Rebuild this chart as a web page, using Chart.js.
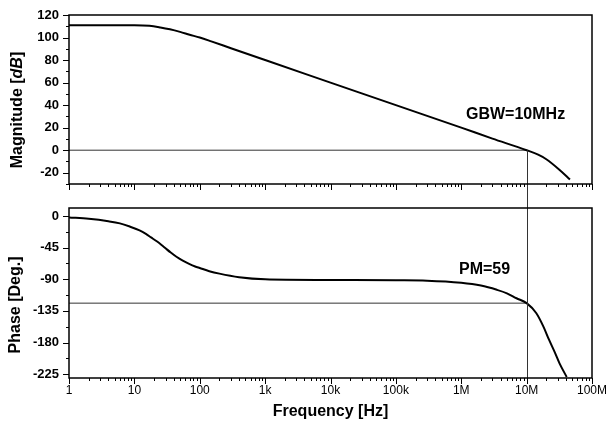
<!DOCTYPE html>
<html>
<head>
<meta charset="utf-8">
<script src="https://cdn.jsdelivr.net/npm/chart.js@4.4.1/dist/chart.umd.min.js"></script>
<style>
  body { margin: 0; background: #fff; }
  #wrap { position: relative; width: 606px; height: 437px; }
  canvas { position: absolute; left: 0; }
</style>
</head>
<body>
<div id="wrap">
  <canvas id="magChart" width="606" height="196" style="top:0"></canvas>
  <canvas id="phaseChart" width="606" height="241" style="top:196px"></canvas>
</div>
<script>
  // values
  const magFreq = [1, 10, 17, 25, 35, 50, 70, 100, 150, 300, 1e3, 1e4, 1e5, 1e6, 3e6, 1e7, 1.5e7, 2e7, 3.2e7, 4.6e7];
  const magDb = [111, 111, 110.5, 109, 107.3, 105, 102.5, 100, 96.6, 90.5, 80, 60, 40, 20, 10.3, 0, -4, -8, -17.5, -26];

  const phaseFreq = [1, 2, 4, 6, 8.5, 12, 15, 18, 22, 26, 30, 36, 44, 55, 70, 85, 100, 140, 200, 400, 1e3, 1e4, 1e5, 3e5, 1e6, 2e6, 3.5e6, 5e6, 7e6, 1e7, 1.4e7, 1.8e7, 2.2e7, 2.7e7, 3.2e7, 4.1e7];
  const phaseDeg = [-2, -4, -7.5, -10.5, -15, -20.5, -25.5, -30.5, -36, -41.2, -46, -52, -58, -63.5, -68.5, -71.8, -74, -78.5, -82, -87, -90, -91, -91.5, -92, -95, -99, -105, -110, -117, -124, -138, -157, -176, -194, -210, -229];

  const decadeTicks = [1, 10, 100, 1e3, 1e4, 1e5, 1e6, 1e7, 1e8];
  const decadeLabels = ['1', '10', '100', '1k', '10k', '100k', '1M', '10M', '100M'];
  const gbwFreq = 1e7;
  const pmLine = -124;

  Chart.defaults.font.family = "'Liberation Sans', Arial, sans-serif";
  Chart.defaults.color = '#000';

  // all ticks 1..9 per decade
  const allTicks = [];
  for (let d = 0; d < 8; d++) {
    for (let m = 1; m < 10; m++) allTicks.push(m * Math.pow(10, d));
  }
  allTicks.push(1e8);

  function pts(xs, ys) {
    return xs.map((x, i) => ({ x: x, y: ys[i] }));
  }

  function drawVTitle(ctx, cx, cy, parts) {
    ctx.save();
    ctx.translate(cx, cy);
    ctx.rotate(-Math.PI / 2);
    let total = 0;
    parts.forEach(p => { ctx.font = p.font; p.w = ctx.measureText(p.text).width; total += p.w; });
    let x = -total / 2;
    ctx.textBaseline = 'middle';
    ctx.textAlign = 'left';
    ctx.fillStyle = '#000';
    parts.forEach(p => { ctx.font = p.font; ctx.fillText(p.text, x, 0); x += p.w; });
    ctx.restore();
  }

  // box, tick marks, cursor line and text
  const frame = {
    id: 'frame',
    afterDraw(chart, args, opts) {
      const { ctx, chartArea: a, scales } = chart;
      const xs = scales.x, ys = scales.y;
      ctx.save();
      ctx.strokeStyle = '#000';
      ctx.lineWidth = 1;
      xs.ticks.forEach(t => {
        const px = Math.round(xs.getPixelForValue(t.value)) + 0.5;
        const len = decadeTicks.includes(t.value) ? 6 : 3;
        ctx.beginPath(); ctx.moveTo(px, a.bottom); ctx.lineTo(px, a.bottom + len); ctx.stroke();
      });
      ys.ticks.forEach(t => {
        const py = Math.round(ys.getPixelForValue(t.value)) + 0.5;
        const len = t.label !== '' ? 6 : 3;
        ctx.beginPath(); ctx.moveTo(a.left, py); ctx.lineTo(a.left - len, py); ctx.stroke();
      });

      // vertical line at GBW
      const gx = Math.round(xs.getPixelForValue(gbwFreq)) + 0.5;
      const y0 = opts.top ? ys.getPixelForValue(0) : 0;
      const y1 = opts.top ? chart.height : a.bottom;
      ctx.strokeStyle = '#333';
      ctx.beginPath(); ctx.moveTo(gx, y0); ctx.lineTo(gx, y1); ctx.stroke();

      ctx.strokeStyle = '#000';
      ctx.lineWidth = 1.5;
      ctx.strokeRect(a.left, a.top, a.width, a.height);

      ctx.fillStyle = '#000';
      ctx.font = "bold 16px 'Liberation Sans', Arial, sans-serif";
      ctx.textBaseline = 'middle';
      ctx.textAlign = 'left';
      ctx.fillText(opts.note, opts.noteX, opts.noteY);

      drawVTitle(ctx, opts.titleX, opts.titleY, opts.title);
      ctx.restore();
    }
  };

  function xScale(showLabels, height) {
    return {
      type: 'logarithmic',
      min: 1,
      max: 1e8,
      afterBuildTicks: s => { s.ticks = allTicks.map(v => ({ value: v })); },
      afterFit: s => { s.height = height; s.paddingLeft = 0; s.paddingRight = 0; },
      grid: { display: false, drawTicks: false },
      border: { display: false },
      ticks: {
        display: showLabels,
        autoSkip: false,
        maxRotation: 0,
        padding: 5,
        font: { size: 12 },
        callback: v => {
          const i = decadeTicks.indexOf(v);
          return i >= 0 ? decadeLabels[i] : '';
        }
      },
      title: {
        display: showLabels,
        text: 'Frequency [Hz]',
        font: { size: 16, weight: 'bold' },
        padding: { top: 4, bottom: 16 }
      }
    };
  }

  function yScale(min, max, step, labelEvery) {
    return {
      min: min,
      max: max,
      afterFit: s => { s.width = 69; s.paddingTop = 0; s.paddingBottom = 0; },
      grid: { display: false, drawTicks: false },
      border: { display: false },
      ticks: {
        stepSize: step,
        includeBounds: false,
        autoSkip: false,
        padding: 10,
        font: { size: 13, weight: 'bold' },
        callback: v => (Math.abs(v % labelEvery) < 1e-6 ? v : '')
      }
    };
  }

  const bold = "bold 16px 'Liberation Sans', Arial, sans-serif";
  const boldItalic = "italic bold 16px 'Liberation Sans', Arial, sans-serif";

  new Chart(document.getElementById('magChart'), {
    type: 'line',
    data: {
      datasets: [
        { data: pts(magFreq, magDb), borderColor: '#000', borderWidth: 2, pointRadius: 0, cubicInterpolationMode: 'monotone' },
        { data: pts([1, gbwFreq], [0, 0]), borderColor: '#333', borderWidth: 1, pointRadius: 0 }
      ]
    },
    options: {
      responsive: false,
      animation: false,
      layout: { padding: { top: 15, right: 14, left: 0, bottom: 0 } },
      plugins: {
        legend: { display: false },
        tooltip: { enabled: false },
        frame: {
          top: true,
          note: 'GBW=10MHz', noteX: 466, noteY: 115,
          titleX: 18, titleY: 110,
          title: [{ text: 'Magnitude [', font: bold }, { text: 'dB', font: boldItalic }, { text: ']', font: bold }]
        }
      },
      scales: { x: xScale(false, 12), y: yScale(-30, 120, 10, 20) }
    },
    plugins: [frame]
  });

  new Chart(document.getElementById('phaseChart'), {
    type: 'line',
    data: {
      datasets: [
        { data: pts(phaseFreq, phaseDeg), borderColor: '#000', borderWidth: 2, pointRadius: 0, cubicInterpolationMode: 'monotone' },
        { data: pts([1, gbwFreq], [pmLine, pmLine]), borderColor: '#333', borderWidth: 1, pointRadius: 0 }
      ]
    },
    options: {
      responsive: false,
      animation: false,
      layout: { padding: { top: 12, right: 14, left: 0, bottom: 0 } },
      plugins: {
        legend: { display: false },
        tooltip: { enabled: false },
        frame: {
          top: false,
          note: 'PM=59', noteX: 459, noteY: 74,
          titleX: 16, titleY: 109,
          title: [{ text: 'Phase [Deg.]', font: bold }]
        }
      },
      scales: { x: xScale(true, 59), y: yScale(-230.5, 11.4, 22.5, 45) }
    },
    plugins: [frame]
  });
</script>
</body>
</html>
